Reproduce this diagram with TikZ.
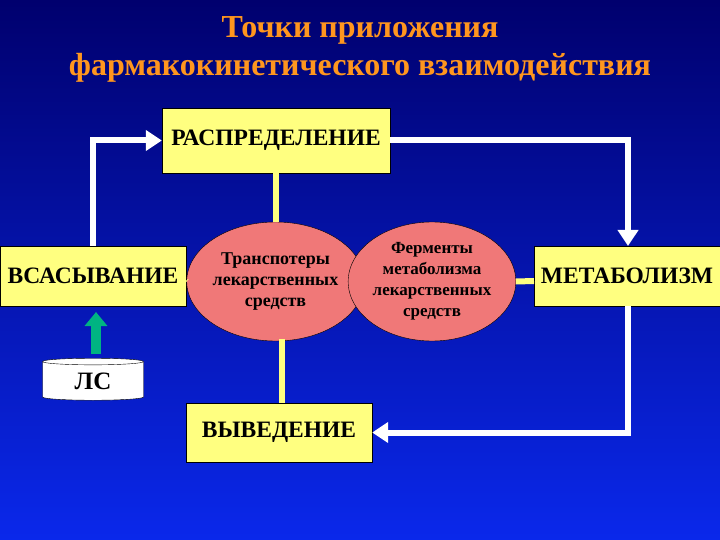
\documentclass[tikz,border=0pt]{standalone}
\usepackage{fontspec}
\setmainfont{Liberation Serif}
\usetikzlibrary{shapes.geometric,arrows.meta}
\definecolor{bgtop}{RGB}{0,0,110}
\definecolor{bgbot}{RGB}{10,40,235}
\definecolor{boxy}{RGB}{255,255,128}
\definecolor{circ}{RGB}{240,120,120}
\definecolor{titlec}{RGB}{255,150,30}
\definecolor{arrg}{RGB}{0,180,130}
\tikzset{
  box/.style={draw=black,fill=boxy,font=\bfseries\fontsize{23.5}{26}\selectfont,inner sep=0pt},
  circnode/.style={ellipse,draw=black,fill=circ,font=\bfseries\fontsize{18}{21}\selectfont,align=center,inner sep=0pt,minimum width=131pt,minimum height=119pt},
  flow/.style={white,line width=6pt,-{Triangle[length=16pt,width=20pt]}},
  link/.style={boxy,line width=6pt},
}
\begin{document}
\begin{tikzpicture}[x=1pt,y=-1pt]
\shade[top color=bgtop,bottom color=bgbot] (0,0) rectangle (720,540);
\useasboundingbox (0,0) rectangle (720,540);
\node[text=titlec,font=\bfseries\fontsize{32}{38}\selectfont,align=center] (title) at (360,49) {Точки приложения\\фармакокинетического взаимодействия};
\node[box,minimum width=228pt,minimum height=65pt] (rasp) at (276,140.5) {РАСПРЕДЕЛЕНИЕ};
\node[box,minimum width=186pt,minimum height=60pt] (vsas) at (93,276) {ВСАСЫВАНИЕ};
\node[box,minimum width=186pt,minimum height=60pt] (metab) at (627,276) {МЕТАБОЛИЗМ};
\node[box,minimum width=186pt,minimum height=59pt] (vyv) at (279,432.5) {ВЫВЕДЕНИЕ};
\node[circnode] (tr) at (275.5,281.5) {Транспотеры\\лекарственных\\средств};
\node[circnode,font=\bfseries\fontsize{17}{21}\selectfont] (ferm) at (432,281.5) {Ферменты\\метаболизма\\лекарственных\\средств};
\node[cylinder,shape border rotate=90,draw=black,fill=white,aspect=0.18,minimum width=101pt,minimum height=42pt,inner sep=0pt,font=\bfseries\fontsize{25}{27}\selectfont] (ls) at (93,381) {ЛС};
\coordinate (gs) at (96,354);
\coordinate (ge) at (96,312);
\coordinate (trb) at (282,339);
\coordinate (vyt) at (282,403);
\coordinate (vsr) at (186,281);
\coordinate (mtl) at (534,281);
\coordinate (vst) at (93,246);
\coordinate (mtt) at (628,246);
\coordinate (mtb) at (628,306);
\draw[arrg,line width=10pt,-{Triangle[length=14pt,width=22pt]}] (gs) -- (ge);
\draw[link] (tr.north |- rasp.south) -- (tr.north);
\draw[link] (trb) -- (vyt);
\draw[link] (vsr) -- (tr.west);
\draw[link] (ferm.east) -- (mtl);
\draw[flow] (vst) |- (rasp.west);
\draw[flow] (rasp.east) -| (mtt);
\draw[flow] (mtb) |- (vyv.east);
\end{tikzpicture}
\end{document}
